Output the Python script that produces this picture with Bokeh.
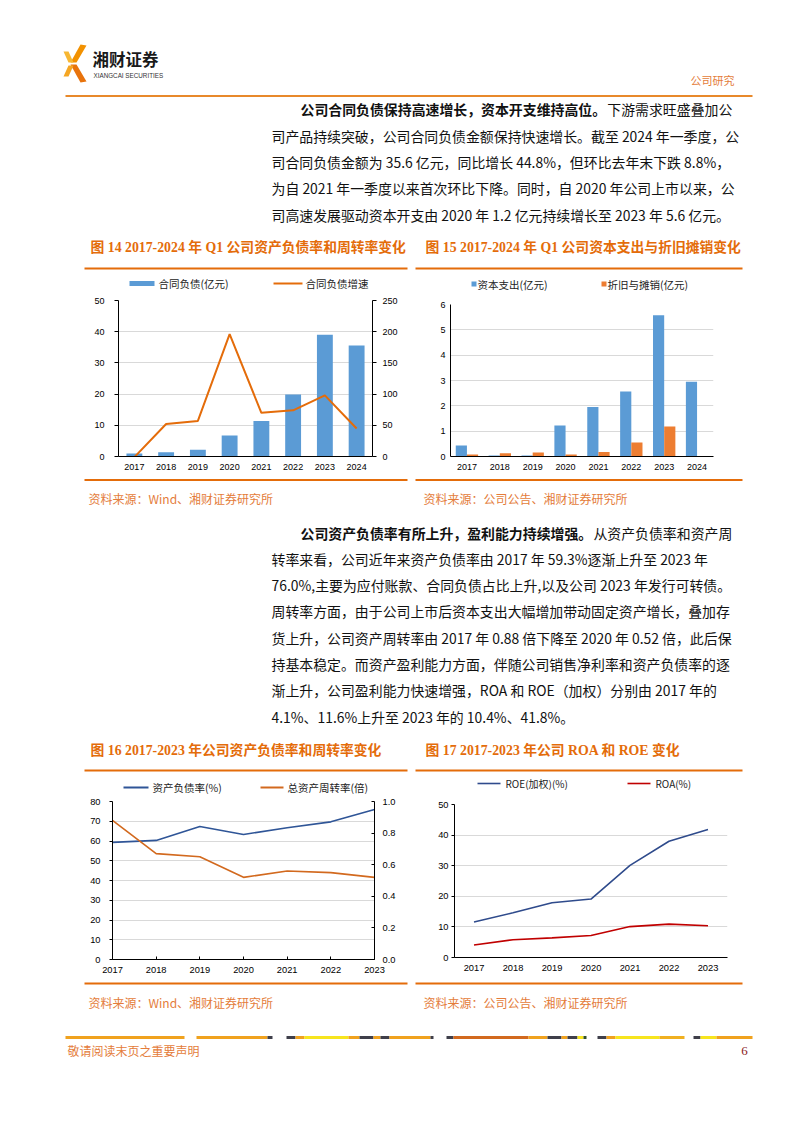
from bokeh.plotting import figure
from bokeh.layouts import column, row
from bokeh.models import (Range1d, FactorRange, LinearAxis, FixedTicker,
                          NumeralTickFormatter, ColumnDataSource)
from bokeh.core.properties import value
from bokeh.transform import dodge
from bokeh.embed import file_html
from bokeh.resources import INLINE

# ---------------- data ----------------
years_q = ["2017", "2018", "2019", "2020", "2021", "2022", "2023", "2024"]
contract_liab = [1.0, 1.4, 2.2, 6.7, 11.4, 19.9, 39.0, 35.6]          # 亿元
contract_liab_growth = [-1.0, 52.0, 57.0, 196.0, 70.0, 74.0, 98.0, 44.8]  # %
ticks14_left = [0, 10, 20, 30, 40, 50]
ticks14_right = [0, 50, 100, 150, 200, 250]

capex = [0.43, 0.04, 0.04, 1.22, 1.95, 2.57, 5.58, 2.95]              # 亿元
dep_amort = [0.08, 0.13, 0.16, 0.08, 0.18, 0.55, 1.18, 0.0]           # 亿元
ticks15 = [0, 1, 2, 3, 4, 5, 6]

years_a = [2017, 2018, 2019, 2020, 2021, 2022, 2023]
debt_ratio = [59.3, 60.3, 67.3, 63.3, 66.7, 69.7, 76.0]               # %
asset_turnover = [0.88, 0.67, 0.65, 0.52, 0.56, 0.55, 0.52]           # 倍
ticks16_left = [0, 10, 20, 30, 40, 50, 60, 70, 80]
ticks16_right = [0.0, 0.2, 0.4, 0.6, 0.8, 1.0]

years_s = ["2017", "2018", "2019", "2020", "2021", "2022", "2023"]
roe = [11.6, 14.6, 17.9, 19.1, 30.1, 38.0, 41.8]                      # %
roa = [4.1, 5.8, 6.4, 7.2, 10.1, 10.9, 10.4]                          # %
ticks17 = [0, 10, 20, 30, 40, 50]

title14 = "图 14 2017-2024 年 Q1 公司资产负债率和周转率变化"
title15 = "图 15 2017-2024 年 Q1 公司资本支出与折旧摊销变化"
title16 = "图 16 2017-2023 年公司资产负债率和周转率变化"
title17 = "图 17 2017-2023 年公司 ROA 和 ROE 变化"
src_wind = "资料来源：Wind、湘财证券研究所"
src_company = "资料来源：公司公告、湘财证券研究所"

para1_bold = "公司合同负债保持高速增长，资本开支维持高位。"
para1_lines = [
    "下游需求旺盛叠加公",
    "司产品持续突破，公司合同负债金额保持快速增长。截至 2024 年一季度，公",
    "司合同负债金额为 35.6 亿元，同比增长 44.8%，但环比去年末下跌 8.8%，",
    "为自 2021 年一季度以来首次环比下降。同时，自 2020 年公司上市以来，公",
    "司高速发展驱动资本开支由 2020 年 1.2 亿元持续增长至 2023 年 5.6 亿元。",
]
para2_bold = "公司资产负债率有所上升，盈利能力持续增强。"
para2_lines = [
    "从资产负债率和资产周",
    "转率来看，公司近年来资产负债率由 2017 年 59.3%逐渐上升至 2023 年",
    "76.0%,主要为应付账款、合同负债占比上升,以及公司 2023 年发行可转债。",
    "周转率方面，由于公司上市后资本支出大幅增加带动固定资产增长，叠加存",
    "货上升，公司资产周转率由 2017 年 0.88 倍下降至 2020 年 0.52 倍，此后保",
    "持基本稳定。而资产盈利能力方面，伴随公司销售净利率和资产负债率的逐",
    "渐上升，公司盈利能力快速增强，ROA 和 ROE（加权）分别由 2017 年的",
    "4.1%、11.6%上升至 2023 年的 10.4%、41.8%。",
]

footer_segs = [  # decorative footer bar: x0, x1, colour
    (65, 184, "#F0A21E"), (196, 267, "#F0A21E"), (267, 272, "#3F3F4A"),
    (286, 295, "#3F3F4A"), (295, 304, "#F0A21E"), (304, 348, "#F7E51E"),
    (348, 359, "#F0A21E"), (359, 373, "#3F3F4A"), (373, 380, "#F0A21E"),
    (380, 389, "#3F3F4A"), (389, 430, "#F0A21E"), (430, 433, "#3F3F4A"),
    (446, 453, "#3F3F4A"), (453, 528, "#D2691E"), (528, 547, "#F0A21E"),
    (547, 561, "#3F3F4A"), (561, 567, "#F0A21E"), (567, 577, "#3F3F4A"),
    (577, 583, "#F7E51E"), (583, 586, "#2F4F2F"),
    (597, 606, "#3F3F4A"), (606, 615, "#F0A21E"), (615, 659, "#F7E51E"),
    (659, 684, "#F0B020"), (693, 700, "#3F3F4A"), (700, 716, "#F7E51E"),
    (716, 752, "#F0A21E"),
]

# ---------------- styles ----------------
CJK = "Noto Sans CJK SC"
SANS = "Liberation Sans"
TFONT = "'Liberation Serif', 'Noto Sans CJK SC'"
ORANGE = "#E46C0A"
SRC_ORANGE = "#E47C3A"
GRID = "#D9D9D9"


def canvas(w, h, ox, oy):
    p = figure(width=w, height=h, x_range=Range1d(ox, ox + w),
               y_range=Range1d(oy + h, oy), min_border=0,
               x_axis_location=None, y_axis_location=None,
               output_backend="svg", toolbar_location=None)
    p.outline_line_color = None
    p.grid.visible = False
    p.background_fill_color = "white"
    p.border_fill_color = "white"
    return p


def txt(p, x, y, s, size, color="#111111", font=CJK, style="normal", align="left"):
    p.text(x=[x], y=[y], text=[s], text_font=value(font), text_font_size=size,
           text_color=color, text_font_style=style, text_align=align,
           text_baseline="middle")


def hline(p, x0, x1, y, color, w):
    p.line(x=[x0, x1], y=[y, y], line_color=color, line_width=w)


def style_axis(ax, size, tick_out=0, tick_in=0, standoff=5):
    ax.axis_line_color = "#000000"
    ax.axis_line_width = 1
    ax.major_tick_line_color = "#000000"
    ax.major_tick_out = tick_out
    ax.major_tick_in = tick_in
    ax.minor_tick_line_color = None
    ax.major_label_text_font = SANS
    ax.major_label_text_font_size = size
    ax.major_label_text_color = "#000000"
    ax.major_label_standoff = standoff


def base_plot(w, h, xr, yr, l, r, t, b):
    p = figure(width=w, height=h, x_range=xr, y_range=yr,
               min_border_left=l, min_border_right=r,
               min_border_top=t, min_border_bottom=b,
               output_backend="svg", toolbar_location=None)
    p.outline_line_color = None
    p.xgrid.grid_line_color = None
    p.ygrid.grid_line_color = GRID
    p.background_fill_color = "white"
    p.border_fill_color = "white"
    return p


LX, FX, FS, CW, LS = 271, 300, "13.9px", 13.9, 26.3

# ---------------- top block: header, paragraph 1, titles 14/15 ----------------
A = canvas(802, 293, 0, 0)
A.patch(x=[80, 86, 76, 70], y=[44, 45, 62, 62], fill_color="#F29100", line_color=None)
A.patch(x=[63, 68, 73, 68], y=[51, 51, 62, 62], fill_color="#F7B733", line_color=None)
A.patch(x=[70, 76, 86, 80], y=[64, 64, 81, 82], fill_color="#E8730C", line_color=None)
A.patch(x=[63, 68, 73, 68], y=[76, 76, 65, 65], fill_color="#F5A623", line_color=None)
txt(A, 92, 58, "湘财证券", "16.5px", "#1A1A1A", CJK, "bold")
txt(A, 93, 75, "XIANGCAI SECURITIES", "6.3px", "#333333", SANS)
txt(A, 690, 79, "公司研究", "11px", SRC_ORANGE)
hline(A, 65, 752, 95.5, "#E8892B", 2)

y0 = 108.9
txt(A, FX, y0, para1_bold, FS, "#111111", CJK, "bold")
txt(A, FX + len(para1_bold) * CW + 1, y0, para1_lines[0], FS)
for i, s in enumerate(para1_lines[1:]):
    txt(A, LX, y0 + LS * (i + 1), s, FS)

# chart 14 title + legend
txt(A, 90, 247, title14, "13.8px", ORANGE, TFONT, "bold")
hline(A, 84, 407, 268, ORANGE, 2)
A.quad(left=[129], right=[154], top=[280.5], bottom=[285.5], fill_color="#5B9BD5", line_color=None)
txt(A, 158, 283, "合同负债(亿元)", "10.5px", "#222222")
hline(A, 273, 302, 283, ORANGE, 2)
txt(A, 305, 283, "合同负债增速", "10.5px", "#222222")
# chart 15 title + legend
txt(A, 425, 247, title15, "13.8px", ORANGE, TFONT, "bold")
hline(A, 415, 742, 268, ORANGE, 2)
A.quad(left=[471], right=[476], top=[281], bottom=[286], fill_color="#5B9BD5", line_color=None)
txt(A, 477, 283.5, "资本支出(亿元)", "10.5px", "#222222")
A.quad(left=[601], right=[606], top=[281], bottom=[286], fill_color="#ED7D31", line_color=None)
txt(A, 607, 283.5, "折旧与摊销(亿元)", "10.5px", "#222222")

# ---------------- chart 14 ----------------
pB1 = base_plot(415, 183, FactorRange(factors=years_q), Range1d(0, 50), 118, 43, 7, 20)
pB1.yaxis.ticker = FixedTicker(ticks=ticks14_left)
pB1.extra_y_ranges = {"growth": Range1d(0, 250)}
pB1.add_layout(LinearAxis(y_range_name="growth", ticker=FixedTicker(ticks=ticks14_right)), "right")
pB1.vbar(x=years_q, top=contract_liab, width=0.5, fill_color="#5B9BD5", line_color=None)
pB1.line(x=years_q, y=contract_liab_growth, y_range_name="growth", line_color=ORANGE, line_width=2)
style_axis(pB1.xaxis[0], "9px", 0, 0, 7)
style_axis(pB1.yaxis[0], "9px", 4, 0, 10)
style_axis(pB1.yaxis[1], "9px", 4, 0, 6)

# ---------------- chart 15 ----------------
pB2 = base_plot(387, 183, FactorRange(factors=years_q), Range1d(0, 6), 35, 89, 11, 20)
pB2.yaxis.ticker = FixedTicker(ticks=ticks15)
src15 = ColumnDataSource(dict(year=years_q, capex=capex, da=dep_amort))
pB2.vbar(x=dodge("year", -0.17, range=pB2.x_range), top="capex", width=0.34,
         source=src15, fill_color="#5B9BD5", line_color=None)
pB2.vbar(x=dodge("year", 0.17, range=pB2.x_range), top="da", width=0.34,
         source=src15, fill_color="#ED7D31", line_color=None)
style_axis(pB2.xaxis[0], "9px", 0, 0, 7)
style_axis(pB2.yaxis[0], "9px", 0, 0, 5)

# ---------------- middle block: sources, paragraph 2, titles 16/17 ----------------
C = canvas(802, 319, 0, 476)
hline(C, 84, 407, 479.5, ORANGE, 2)
txt(C, 88, 498, src_wind, "12px", SRC_ORANGE)
hline(C, 415, 742, 479.5, ORANGE, 2)
txt(C, 423, 498, src_company, "12px", SRC_ORANGE)

y1 = 532.0
txt(C, FX, y1, para2_bold, FS, "#111111", CJK, "bold")
txt(C, FX + len(para2_bold) * CW + 1, y1, para2_lines[0], FS)
for i, s in enumerate(para2_lines[1:]):
    txt(C, LX, y1 + LS * (i + 1), s, FS)

txt(C, 90, 750, title16, "13.8px", ORANGE, TFONT, "bold")
hline(C, 84, 407, 770, ORANGE, 2)
hline(C, 123, 148, 787, "#2F5597", 2)
txt(C, 152, 786.5, "资产负债率(%)", "10.5px", "#222222")
hline(C, 260, 283, 787, "#D2691E", 2)
txt(C, 287, 786.5, "总资产周转率(倍)", "10.5px", "#222222")

txt(C, 425, 750, title17, "13.8px", ORANGE, TFONT, "bold")
hline(C, 415, 742, 770, ORANGE, 2)
hline(C, 477, 500, 783, "#2F4B8C", 1.6)
txt(C, 505, 783, "ROE(加权)(%)", "10px", "#222222")
hline(C, 627, 650, 783, "#C00000", 1.6)
txt(C, 655, 783, "ROA(%)", "10px", "#222222")

# ---------------- chart 16 ----------------
pD1 = base_plot(415, 185, Range1d(2017, 2023), Range1d(0, 80), 112, 41, 6, 21)
pD1.xaxis.ticker = FixedTicker(ticks=years_a)
pD1.yaxis.ticker = FixedTicker(ticks=ticks16_left)
pD1.extra_y_ranges = {"turn": Range1d(0, 1.0)}
pD1.add_layout(LinearAxis(y_range_name="turn", ticker=FixedTicker(ticks=ticks16_right),
                          formatter=NumeralTickFormatter(format="0.0")), "right")
pD1.line(x=years_a, y=debt_ratio, line_color="#2F5597", line_width=1.6)
pD1.line(x=years_a, y=asset_turnover, y_range_name="turn", line_color="#D2691E", line_width=1.6)
style_axis(pD1.xaxis[0], "9.3px", 0, 3, 7)
style_axis(pD1.yaxis[0], "9.3px", 3, 0, 9)
style_axis(pD1.yaxis[1], "9.3px", 0, 3, 8)

# ---------------- chart 17 ----------------
pD2 = base_plot(387, 185, FactorRange(factors=years_s), Range1d(0, 50), 39, 75, 9, 23)
pD2.yaxis.ticker = FixedTicker(ticks=ticks17)
pD2.line(x=years_s, y=roe, line_color="#2F4B8C", line_width=1.6)
pD2.line(x=years_s, y=roa, line_color="#C00000", line_width=1.6)
style_axis(pD2.xaxis[0], "9.3px", 0, 0, 7)
style_axis(pD2.yaxis[0], "9.3px", 3, 0, 3)

# ---------------- bottom block: sources 16/17 + footer ----------------
E = canvas(802, 145, 0, 980)
hline(E, 84, 407, 983, ORANGE, 2)
txt(E, 88, 1002, src_wind, "12px", SRC_ORANGE)
hline(E, 415, 742, 983, ORANGE, 2)
txt(E, 423, 1002, src_company, "12px", SRC_ORANGE)
E.segment(x0=[s[0] for s in footer_segs], x1=[s[1] for s in footer_segs],
          y0=[1037] * len(footer_segs), y1=[1037] * len(footer_segs),
          line_color=[s[2] for s in footer_segs], line_width=3)
txt(E, 67, 1049.5, "敬请阅读末页之重要声明", "12px", SRC_ORANGE)
txt(E, 744, 1050, "6", "13px", "#8B1A1A", "Liberation Serif", align="center")

layout = column(
    A,
    row(column(pB1), column(pB2)),
    C,
    row(column(pD1), column(pD2)),
    E,
)

open("out.html", "w").write(file_html(layout, INLINE))
